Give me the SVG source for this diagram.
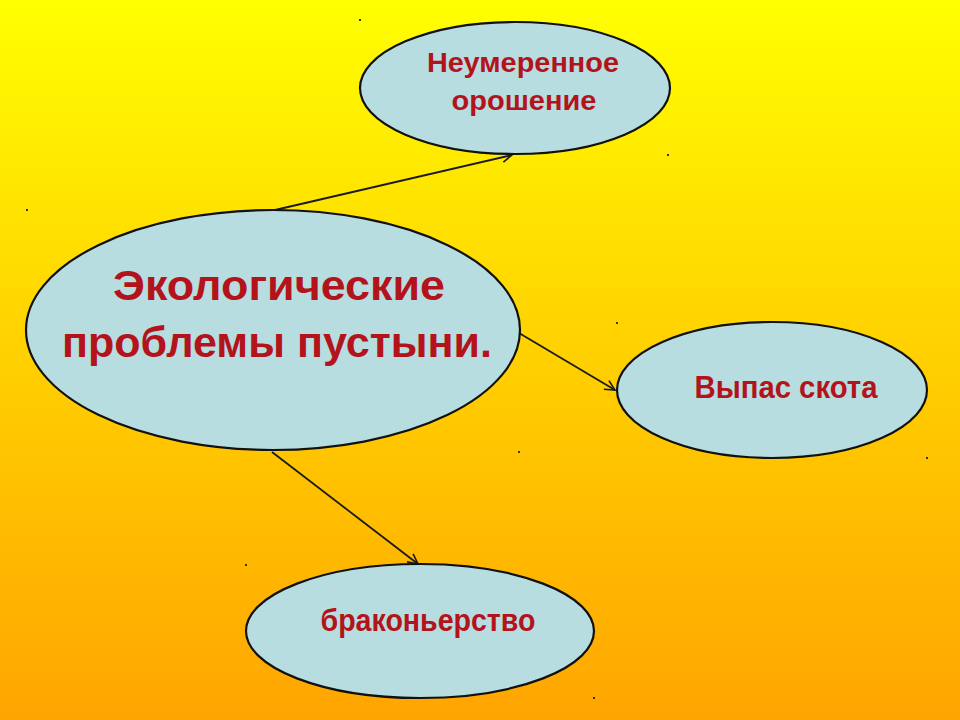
<svg xmlns="http://www.w3.org/2000/svg" width="960" height="720" viewBox="0 0 960 720">
<defs>
<linearGradient id="bg" x1="0" y1="0" x2="0" y2="1">
<stop offset="0" stop-color="#ffff00"/>
<stop offset="0.45" stop-color="#ffd400"/>
<stop offset="1" stop-color="#ffa500"/>
</linearGradient>
<marker id="arr" viewBox="0 0 12 12" refX="11" refY="6" markerWidth="12" markerHeight="12" markerUnits="userSpaceOnUse" orient="auto">
<path d="M1,1 L11,6 L1,11" fill="none" stroke="#1a1a1a" stroke-width="1.6"/>
</marker>
</defs>
<style>
.node ellipse{fill:#b8dde0;stroke:#111;stroke-width:2.2}
.lbl{font-family:"Liberation Sans",Arial,sans-serif;font-weight:bold;fill:#b3141c;text-anchor:middle}
.conn line{stroke:#1a1a1a;stroke-width:1.8;marker-end:url(#arr)}
.dot{fill:#333}
</style>
<rect width="960" height="720" fill="url(#bg)"/>
<g id="dots">
<rect class="dot" x="359" y="19" width="2" height="2"/>
<rect class="dot" x="667" y="154" width="2" height="2"/>
<rect class="dot" x="26" y="209" width="2" height="2"/>
<rect class="dot" x="616" y="322" width="2" height="2"/>
<rect class="dot" x="518" y="451" width="2" height="2"/>
<rect class="dot" x="926" y="457" width="2" height="2"/>
<rect class="dot" x="245" y="564" width="2" height="2"/>
<rect class="dot" x="593" y="697" width="2" height="2"/>
</g>
<g id="connectors" class="conn">
<line x1="275" y1="210" x2="512" y2="155"/>
<line x1="519" y1="333" x2="615" y2="390"/>
<line x1="272" y1="452" x2="418" y2="564"/>
</g>
<g id="main" class="node">
<ellipse cx="273" cy="330" rx="247" ry="120"/>
<text class="lbl" x="279" y="300" font-size="43" textLength="332" lengthAdjust="spacingAndGlyphs">Экологические</text>
<text class="lbl" x="277" y="357" font-size="43" textLength="430" lengthAdjust="spacingAndGlyphs">проблемы пустыни.</text>
</g>
<g id="irrigation" class="node">
<ellipse cx="515" cy="88" rx="155" ry="66"/>
<text class="lbl" x="523" y="72" font-size="28" textLength="192" lengthAdjust="spacingAndGlyphs">Неумеренное</text>
<text class="lbl" x="524" y="110" font-size="28" textLength="145" lengthAdjust="spacingAndGlyphs">орошение</text>
</g>
<g id="grazing" class="node">
<ellipse cx="772" cy="390" rx="155" ry="68"/>
<text class="lbl" x="786" y="398" font-size="31" textLength="183" lengthAdjust="spacingAndGlyphs">Выпас скота</text>
</g>
<g id="poaching" class="node">
<ellipse cx="420" cy="631" rx="174" ry="67"/>
<text class="lbl" x="428" y="631" font-size="31" textLength="215" lengthAdjust="spacingAndGlyphs">браконьерство</text>
</g>
</svg>
